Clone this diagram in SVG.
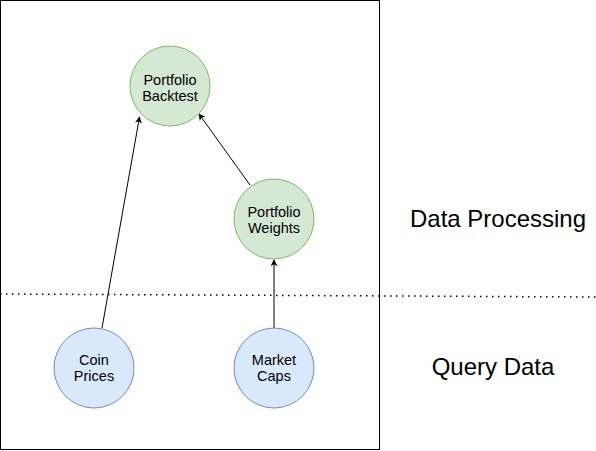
<svg xmlns="http://www.w3.org/2000/svg" width="596" height="451" viewBox="0 0 596 451">
<defs>
<style>
.g{fill:#d5e8d4;stroke:#82b366;stroke-width:1}
.b{fill:#dae8fc;stroke:#6c8ebf;stroke-width:1}
.t{font-family:"Liberation Sans",Arial,sans-serif;font-size:14.5px;fill:#000;text-anchor:middle}
.big{font-family:"Liberation Sans",Arial,sans-serif;font-size:24px;fill:#000;text-anchor:middle}
.c{stroke:#000;stroke-width:1;fill:none;marker-end:url(#ah)}
</style>
<marker id="ah" viewBox="0 0 10 10" refX="9" refY="5" markerWidth="7" markerHeight="7" orient="auto" markerUnits="userSpaceOnUse">
<path d="M0,0 L10,5 L0,10 L3,5 Z" fill="#000"/>
</marker>
</defs>
<rect width="596" height="451" fill="#fff"/>
<rect id="frame" x="0.5" y="0.5" width="379" height="449" fill="none" stroke="#000" stroke-width="1"/>
<line x1="0" y1="294" x2="596" y2="297" stroke="#000" stroke-width="1.5" stroke-dasharray="1.5,4.5"/>
<g id="connectors">
<line class="c" x1="102" y1="328" x2="139.5" y2="117"/>
<line class="c" x1="250" y1="185" x2="199" y2="114"/>
<line class="c" x1="274" y1="328" x2="274" y2="260"/>
</g>
<g id="backtest"><circle class="g" cx="170" cy="86" r="40"/><text class="t" x="170" y="85">Portfolio</text><text class="t" x="170" y="101">Backtest</text></g>
<g id="weights"><circle class="g" cx="274" cy="219" r="40"/><text class="t" x="274" y="217">Portfolio</text><text class="t" x="274" y="233">Weights</text></g>
<g id="coin"><circle class="b" cx="94" cy="368" r="40"/><text class="t" x="94" y="364.5">Coin</text><text class="t" x="94" y="381">Prices</text></g>
<g id="caps"><circle class="b" cx="274" cy="368" r="40"/><text class="t" x="274" y="364.5">Market</text><text class="t" x="274" y="381">Caps</text></g>
<text class="big" x="498" y="227">Data Processing</text>
<text class="big" x="493" y="375">Query Data</text>
</svg>
